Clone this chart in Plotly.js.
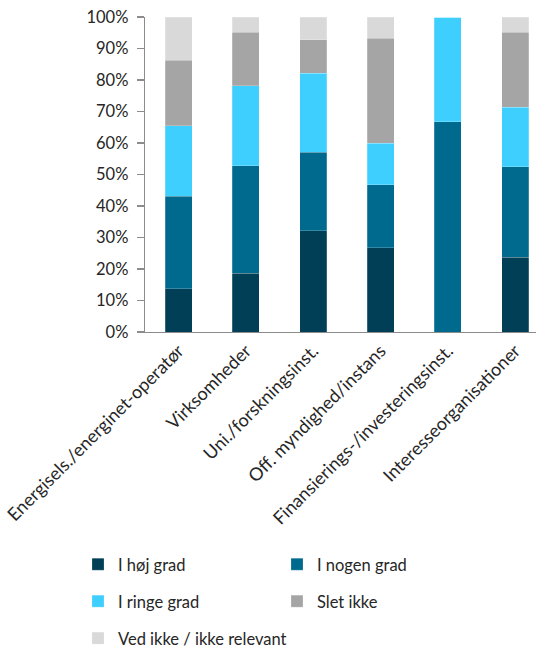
<!DOCTYPE html>
<html>
<head>
<meta charset="utf-8">
<script src="https://cdn.plot.ly/plotly-3.0.1.min.js"></script>
<style>html,body{margin:0;padding:0;background:#fff;}#chart{width:536px;height:649px;}</style>
</head>
<body>
<div id="chart"></div>
<script>
const categories = ["Energisels./energinet-operatør", "Virksomheder", "Uni./forskningsinst.", "Off. myndighed/instans", "Finansierings-/investeringsinst.", "Interesseorganisationer"];
const seriesNames = ["I høj grad", "I nogen grad", "I ringe grad", "Slet ikke", "Ved ikke / ikke relevant"];
const hoej = [13.8, 18.6, 32.1, 26.7, 0, 23.8];
const nogen = [29.3, 34.2, 25.0, 20.0, 66.7, 28.6];
const ringe = [22.4, 25.3, 25.0, 13.3, 33.3, 19.0];
const sletIkke = [20.7, 17.0, 10.7, 33.3, 0, 23.8];
const vedIkke = [13.8, 4.9, 7.1, 6.7, 0, 4.8];
const colors = ["#003F55", "#006A8E", "#3FCFFF", "#A5A5A5", "#D9D9D9"];
const yTicks = [0, 10, 20, 30, 40, 50, 60, 70, 80, 90, 100];
const yTickLabels = yTicks.map(v => v + "%");

const values = [hoej, nogen, ringe, sletIkke, vedIkke];
const legendFor = ["legend", "legend2", "legend", "legend2", "legend"];
const traces = values.map((vals, i) => ({
  type: "bar",
  name: seriesNames[i],
  x: categories,
  y: vals,
  marker: {color: colors[i], line: {width: 0.6, color: "rgba(255,255,255,0.35)"}},
  legend: legendFor[i],
  legendgroup: "g" + i,
  hoverinfo: "skip"
}));

const fam = "Lato, 'Open Sans', sans-serif";
const txt = "#262626";
const legendCommon = {
  xref: "container", yref: "container", xanchor: "left", yanchor: "top",
  orientation: "v", traceorder: "grouped", tracegroupgap: 12.5,
  font: {family: fam, size: 16.5, color: txt},
  bgcolor: "rgba(0,0,0,0)", itemclick: false, itemdoubleclick: false
};

const layout = {
  width: 536, height: 649,
  margin: {l: 144.5, r: 0, t: 17, b: 317, pad: 0, autoexpand: false},
  paper_bgcolor: "#fff", plot_bgcolor: "#fff",
  barmode: "stack", bargap: 0.6,
  font: {family: fam, size: 16, color: txt},
  showlegend: true,
  legend: Object.assign({}, legendCommon, {x: 78 / 536, y: 1 - 547 / 649}),
  legend2: Object.assign({}, legendCommon, {x: 277 / 536, y: 1 - 547 / 649}),
  xaxis: {
    type: "category", range: [-0.5, 5.31], tickangle: -45,
    showline: true, linecolor: "#8C8C8C", linewidth: 1.3,
    ticks: "", showgrid: false, zeroline: false, automargin: false,
    tickfont: {family: fam, size: 18, color: txt}
  },
  yaxis: {
    range: [0, 100], tickvals: yTicks, ticktext: yTickLabels,
    showline: true, linecolor: "#8C8C8C", linewidth: 1.3,
    ticks: "outside", ticklen: 7, tickcolor: "#8C8C8C", tickwidth: 1.3,
    showgrid: false, zeroline: false, automargin: false, ticklabelstandoff: 5,
    tickfont: {family: fam, size: 16.5, color: txt}
  }
};

Plotly.newPlot("chart", traces, layout, {displayModeBar: false, staticPlot: true});
</script>
</body>
</html>
